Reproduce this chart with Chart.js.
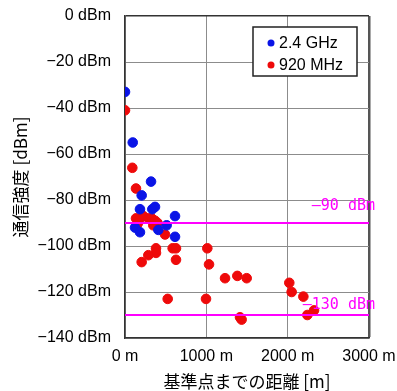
<!DOCTYPE html>
<html>
<head>
<meta charset="utf-8">
<script src="https://cdn.jsdelivr.net/npm/chart.js@4/dist/chart.umd.min.js"></script>
<style>
  html, body { margin: 0; padding: 0; background: #fff; }
  #wrap { width: 397px; height: 391px; }
</style>
</head>
<body>
<div id="wrap"><canvas id="myChart" width="397" height="391"></canvas></div>
<script>
// distance [m], signal [dBm]
const ghz24X = [0, 95, 320, 205, 184, 336, 369, 615, 512, 123, 184, 410, 615];
const ghz24Y = [-33, -55, -72, -78, -84, -84, -83, -87, -91, -92, -94, -93, -96];

const mhz920X = [0, 90, 135, 135, 184, 225, 160, 143, 290, 328, 369, 348, 400, 492,
  381, 381, 586, 627, 287, 205, 627, 525, 996, 1012, 1033, 1230, 1381, 1496,
  1414, 1434, 2020, 2049, 2193, 2324, 2242];
const mhz920Y = [-41, -66, -75, -88, -88, -87, -90, -91, -88, -88, -89, -91, -90, -95,
  -101, -103, -101, -101, -104, -107, -106, -123, -123, -101, -108, -114, -113, -114,
  -131, -132, -116, -120, -122, -128, -130];

const seriesNames = ['2.4 GHz', '920 MHz'];
const refLevels = [-90, -130];
const refLabels = ['—90 dBm', '—130 dBm'];
const xTicks = [0, 1000, 2000, 3000];

const blue = '#0a14e6';
const red = '#ee0a0a';
const magenta = '#ff00ff';
const tickFont = { family: 'Liberation Sans, Arial, sans-serif', size: 16 };
const cjkFont = 'Noto Sans CJK JP';

const toPoints = (xs, ys) => xs.map((x, i) => ({ x: x, y: ys[i] }));

const refDatasets = refLevels.map(v => ({
  type: 'line',
  data: [{ x: 0, y: v }, { x: 3000, y: v }],
  borderColor: magenta,
  borderWidth: 2,
  pointRadius: 0,
  order: 0
}));

const overlay = {
  id: 'overlay',
  afterDraw(chart) {
    const ctx = chart.ctx;
    const area = chart.chartArea;
    const ys = chart.scales.y;
    ctx.save();
    // reference line labels
    const ofs = [17, 10];
    ctx.fillStyle = magenta;
    ctx.textBaseline = 'middle';
    ctx.textAlign = 'right';
    ctx.font = '15px "DejaVu Sans Mono", monospace';
    refLevels.forEach((v, i) => {
      ctx.fillText(refLabels[i], area.right + 6, ys.getPixelForValue(v) - ofs[i]);
    });
    // legend box
    const bx = 253, by = 27, bw = 104, bh = 49;
    ctx.fillStyle = '#fff';
    ctx.fillRect(bx, by, bw, bh);
    ctx.strokeStyle = '#222';
    ctx.lineWidth = 1.5;
    ctx.strokeRect(bx, by, bw, bh);
    const cols = [blue, red];
    ctx.textAlign = 'left';
    ctx.font = '16px "Liberation Sans", Arial, sans-serif';
    seriesNames.forEach((name, i) => {
      const cy = by + 16 + i * 22;
      ctx.fillStyle = cols[i];
      ctx.beginPath();
      ctx.arc(bx + 18, cy, 3.5, 0, Math.PI * 2);
      ctx.fill();
      ctx.fillStyle = '#000';
      ctx.fillText(name, bx + 26, cy + 1);
    });
    ctx.restore();
  }
};

const config = {
  type: 'scatter',
  data: {
    datasets: [
      ...refDatasets,
      {
        label: seriesNames[0],
        data: toPoints(ghz24X, ghz24Y),
        backgroundColor: blue,
        borderColor: blue,
        pointRadius: 4.8,
        order: 1
      },
      {
        label: seriesNames[1],
        data: toPoints(mhz920X, mhz920Y),
        backgroundColor: red,
        borderColor: red,
        pointRadius: 4.8,
        order: 2
      }
    ]
  },
  options: {
    responsive: false,
    animation: false,
    layout: { padding: { top: 16, right: 28, left: 0, bottom: 0 } },
    plugins: { legend: { display: false }, tooltip: { enabled: false } },
    scales: {
      x: {
        type: 'linear',
        min: 0,
        max: 3000,
        afterBuildTicks: s => { s.ticks = xTicks.map(v => ({ value: v })); },
        afterFit: s => { s.height = 53; s.paddingLeft = 0; s.paddingRight = 0; },
        ticks: {
          color: '#000',
          font: tickFont,
          padding: 9,
          maxRotation: 0,
          callback: v => v + ' m'
        },
        grid: {
          drawTicks: false,
          color: c => c.tick && c.tick.value === 3000 ? '#555' : '#8c8c8c',
          lineWidth: c => c.tick && c.tick.value === 3000 ? 2.5 : 1
        },
        border: { color: '#333', width: 1.5 },
        title: {
          display: true,
          text: '基準点までの距離 [m]',
          color: '#000',
          font: { family: cjkFont, size: 17 },
          padding: { top: 0, bottom: -1 }
        }
      },
      y: {
        min: -140,
        max: 0,
        afterFit: s => { s.width = 125; s.paddingTop = 0; s.paddingBottom = 0; },
        ticks: {
          stepSize: 20,
          color: '#000',
          font: tickFont,
          padding: 14,
          callback: v => (v === 0 ? '0' : '−' + Math.abs(v)) + ' dBm'
        },
        grid: {
          drawTicks: false,
          color: c => c.tick && c.tick.value === 0 ? '#333' : '#8c8c8c',
          lineWidth: c => c.tick && c.tick.value === 0 ? 1.5 : 1
        },
        border: { color: '#333', width: 1.5 },
        title: {
          display: true,
          text: '通信強度 [dBm]',
          color: '#000',
          font: { family: cjkFont, size: 17 },
          padding: { top: 10, bottom: 0 }
        }
      }
    }
  },
  plugins: [overlay]
};

const myChart = new Chart(document.getElementById('myChart'), config);
</script>
</body>
</html>
